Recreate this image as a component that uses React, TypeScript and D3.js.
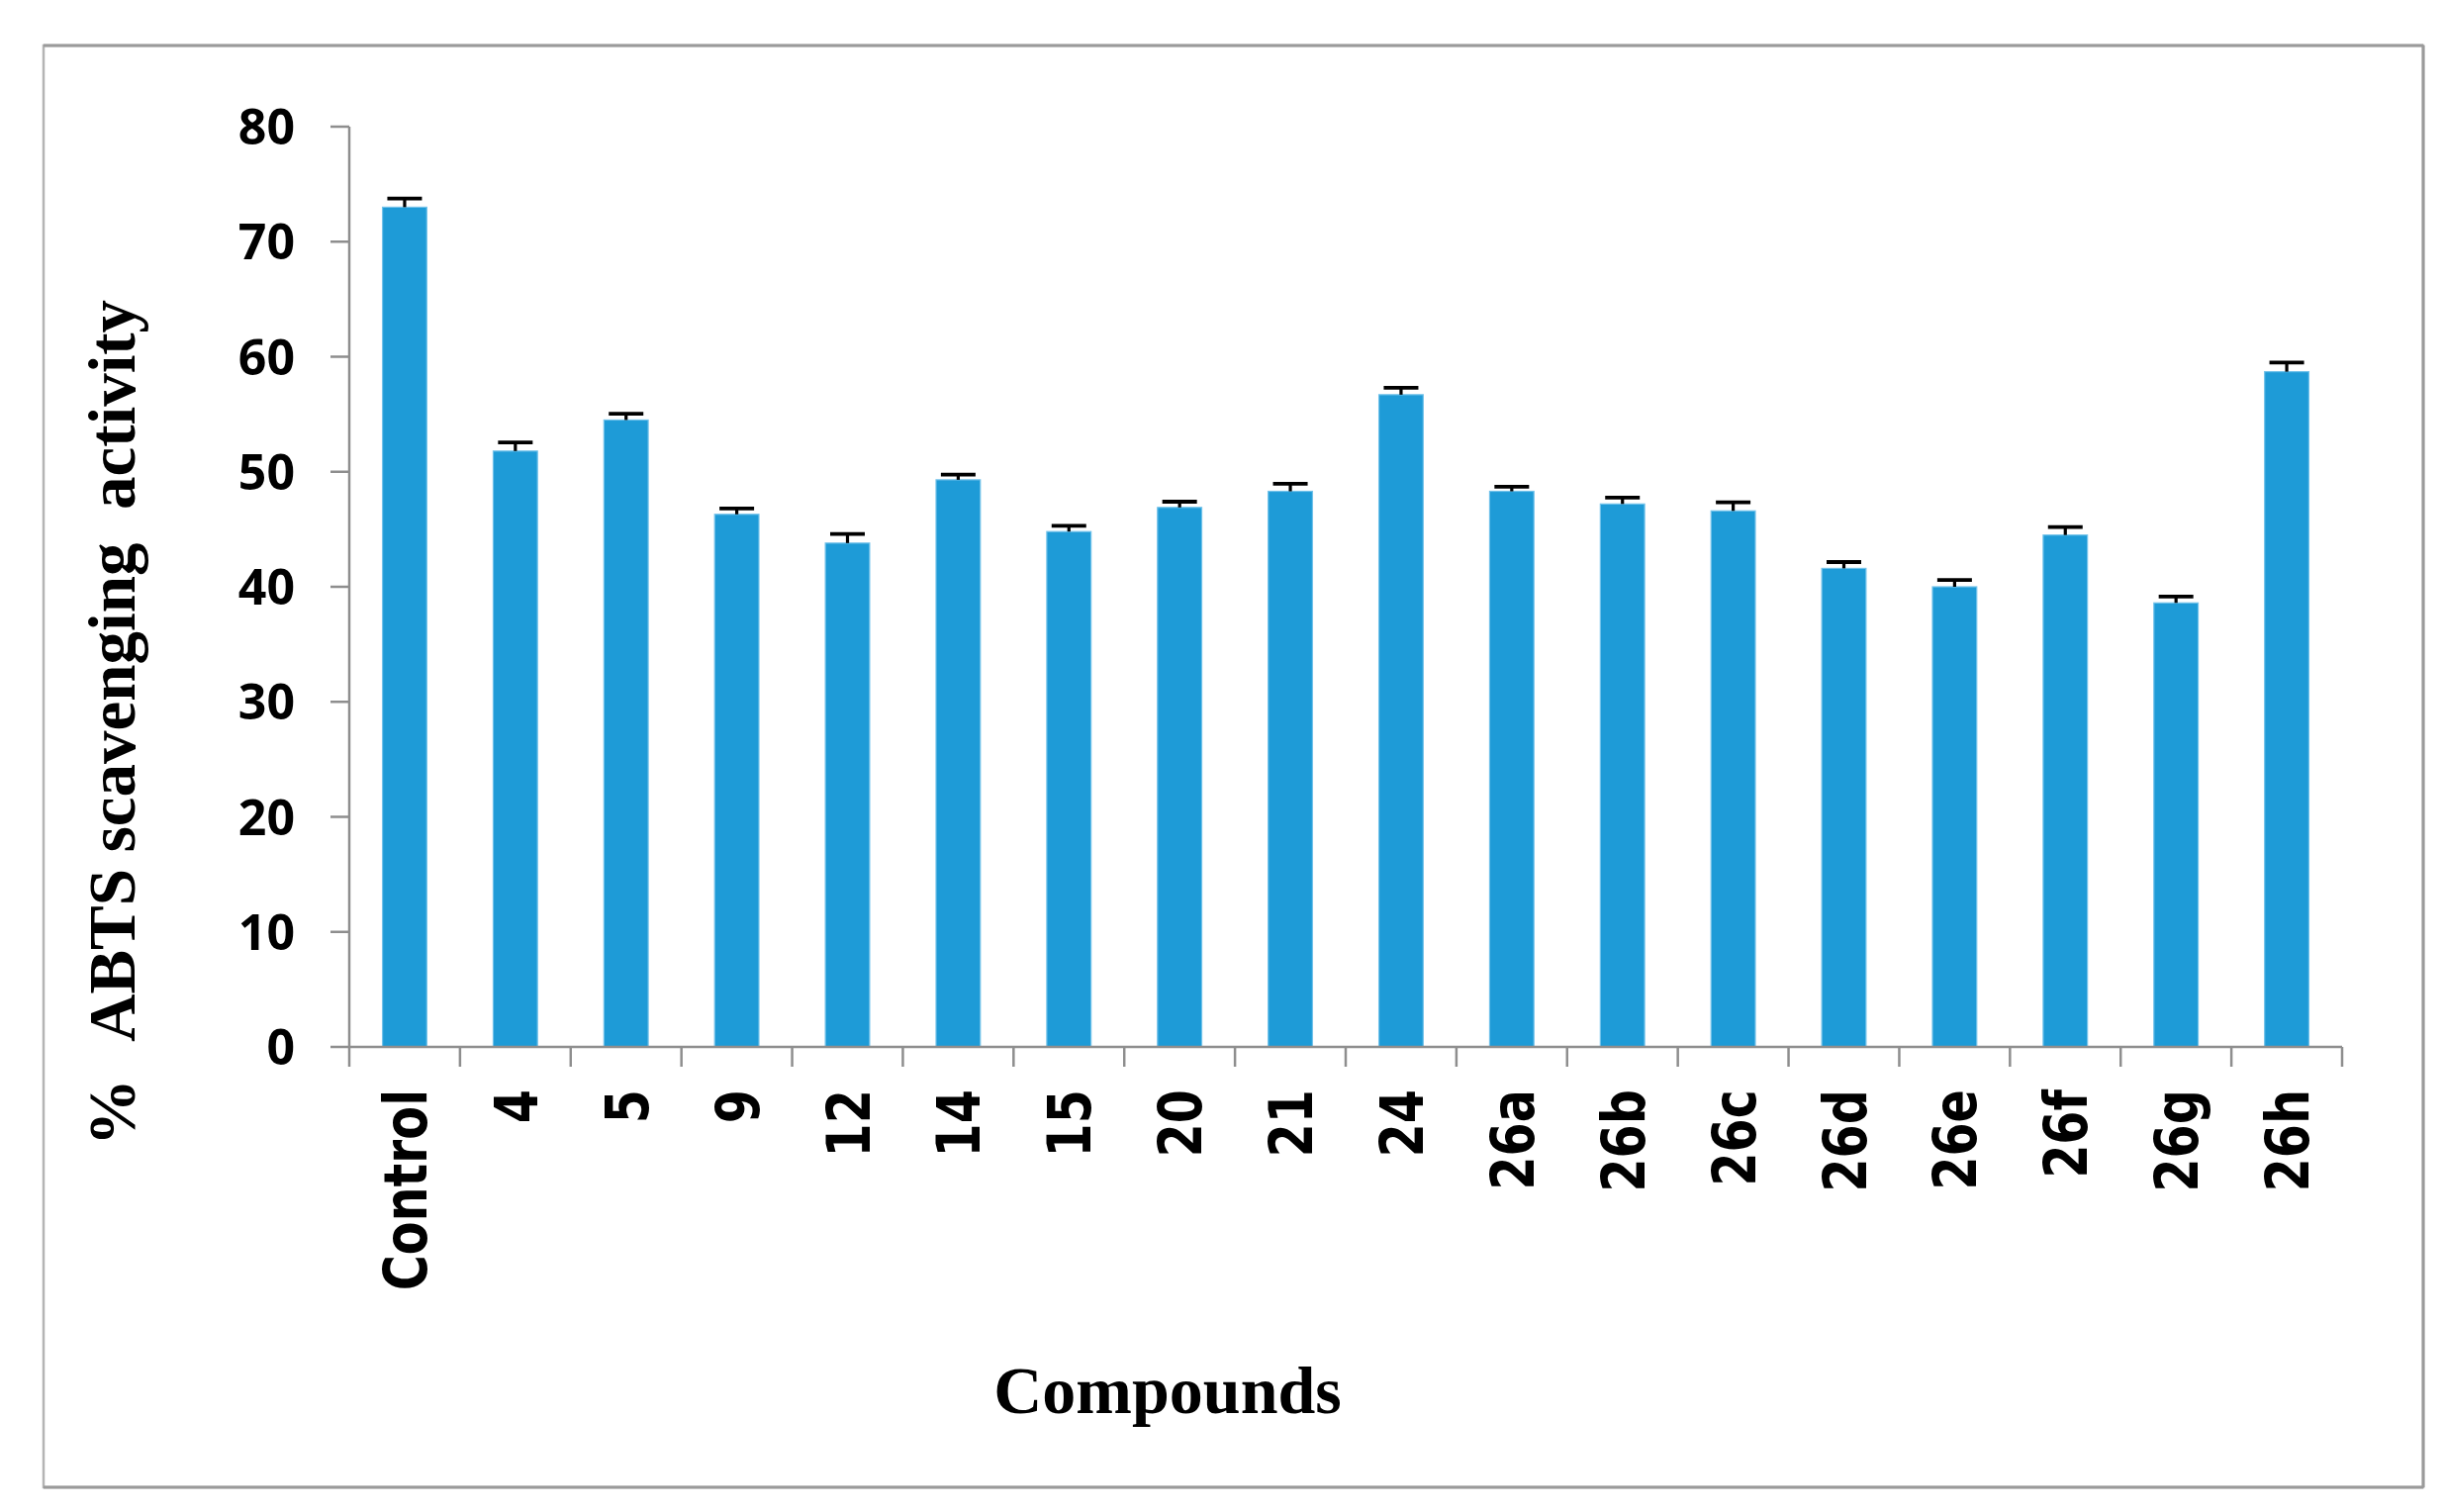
import React from "react";
import * as d3 from "d3";

const categories = ["Control", "4", "5", "9", "12", "14", "15", "20", "21", "24", "26a", "26b", "26c", "26d", "26e", "26f", "26g", "26h"];
const values = [73.0, 51.8, 54.5, 46.3, 43.8, 49.3, 44.8, 46.9, 48.3, 56.7, 48.3, 47.2, 46.6, 41.6, 40.0, 44.5, 38.6, 58.7];
const errors = [0.75, 0.75, 0.55, 0.5, 0.8, 0.45, 0.5, 0.5, 0.65, 0.6, 0.4, 0.55, 0.75, 0.55, 0.6, 0.7, 0.55, 0.8];
const yTicks = [0, 10, 20, 30, 40, 50, 60, 70, 80];
const yTitlePercent = "%";
const yTitleRest = "ABTS scavenging\u00A0\u00A0activity";
const xTitle = "Compounds";

const W = 2471;
const H = 1528;
const left = 353;
const right = 2367;
const top = 128;
const bottom = 1058;

export default function App() {
  const x = d3.scaleBand<string>().domain(categories).range([left, right]).paddingInner(0.6).paddingOuter(0.3);
  const y = d3.scaleLinear().domain([0, 80]).range([bottom, top]);
  const step = x.step();
  const boundaries = categories.map((c) => (x(c) as number) - step * 0.3).concat([right]);
  const axisColor = "#8e8e8e";
  const barColor = "#1e9bd7";

  return (
    <div style={{ position: "absolute", left: 0, top: 0, width: W, height: H, background: "#fff" }}>
      <svg width={W} height={H} style={{ display: "block" }}>
        <rect x={0} y={0} width={W} height={H} fill="#fff" />
        {/* outer frame */}
        <rect x={44} y={46} width={2405} height={1457} fill="none" stroke="#b4b4b4" strokeWidth={2.5} />
        <line x1={44} y1={46} x2={2449} y2={46} stroke="#9a9a9a" strokeWidth={3} />
        <line x1={2449} y1={46} x2={2449} y2={1503} stroke="#9a9a9a" strokeWidth={3} />
        <line x1={44} y1={1503} x2={2449} y2={1503} stroke="#9a9a9a" strokeWidth={3} />

        {/* bars */}
        {categories.map((c, i) => (
          <rect
            key={c}
            x={x(c)}
            y={y(values[i])}
            width={x.bandwidth()}
            height={y(0) - y(values[i])}
            fill={barColor}
            stroke="#72c2ea"
            strokeWidth={1.2}
          />
        ))}

        {/* error bars */}
        {categories.map((c, i) => {
          const cx = (x(c) as number) + x.bandwidth() / 2;
          const y1 = y(values[i]);
          const y2 = y(values[i] + errors[i]);
          return (
            <g key={"e" + c} stroke="#000" strokeWidth={3.2}>
              <line x1={cx} x2={cx} y1={y1} y2={y2} />
              <line x1={cx - 17.5} x2={cx + 17.5} y1={y2} y2={y2} strokeWidth={3.8} />
            </g>
          );
        })}

        {/* y axis */}
        <line x1={left} x2={left} y1={top} y2={bottom} stroke={axisColor} strokeWidth={2.5} />
        {yTicks.map((t) => (
          <g key={"yt" + t}>
            <line x1={left - 19} x2={left} y1={y(t)} y2={y(t)} stroke={axisColor} strokeWidth={2.5} />
            <text
              x={298}
              y={y(t)}
              dy="0.36em"
              textAnchor="end"
              fontFamily="'Open Sans', 'Liberation Sans', sans-serif"
              fontWeight={700}
              fontSize={50}
              fill="#000"
            >
              {t}
            </text>
          </g>
        ))}

        {/* x axis */}
        <line x1={left} x2={right} y1={bottom} y2={bottom} stroke={axisColor} strokeWidth={2.5} />
        {boundaries.map((b, i) => (
          <line key={"xt" + i} x1={b} x2={b} y1={bottom} y2={bottom + 20} stroke={axisColor} strokeWidth={2.5} />
        ))}
        {categories.map((c) => {
          const cx = (x(c) as number) + x.bandwidth() / 2;
          return (
            <text
              key={"xl" + c}
              transform={`translate(${cx},1101) rotate(-90) scale(0.82,1)`}
              dy={22}
              textAnchor="end"
              fontFamily="'DejaVu Sans', Verdana, sans-serif"
              fontWeight={700}
              fontSize={60}
              fill="#000"
            >
              {c}
            </text>
          );
        })}

        {/* y title */}
        <text
          transform={`translate(136,1158) rotate(-90)`}
          textAnchor="start"
          fontFamily="'Liberation Serif', 'Times New Roman', serif"
          fontWeight={700}
          fontSize={68}
          fill="#000"
        >
          {yTitlePercent}
        </text>
        <text
          transform={`translate(136,1053) rotate(-90)`}
          textAnchor="start"
          fontFamily="'Liberation Serif', 'Times New Roman', serif"
          fontWeight={700}
          fontSize={67}
          fill="#000"
        >
          {yTitleRest}
        </text>

        {/* x title */}
        <text
          x={1180}
          y={1428}
          textAnchor="middle"
          fontFamily="'Liberation Serif', 'Times New Roman', serif"
          fontWeight={700}
          fontSize={68}
          fill="#000"
        >
          {xTitle}
        </text>
      </svg>
    </div>
  );
}
